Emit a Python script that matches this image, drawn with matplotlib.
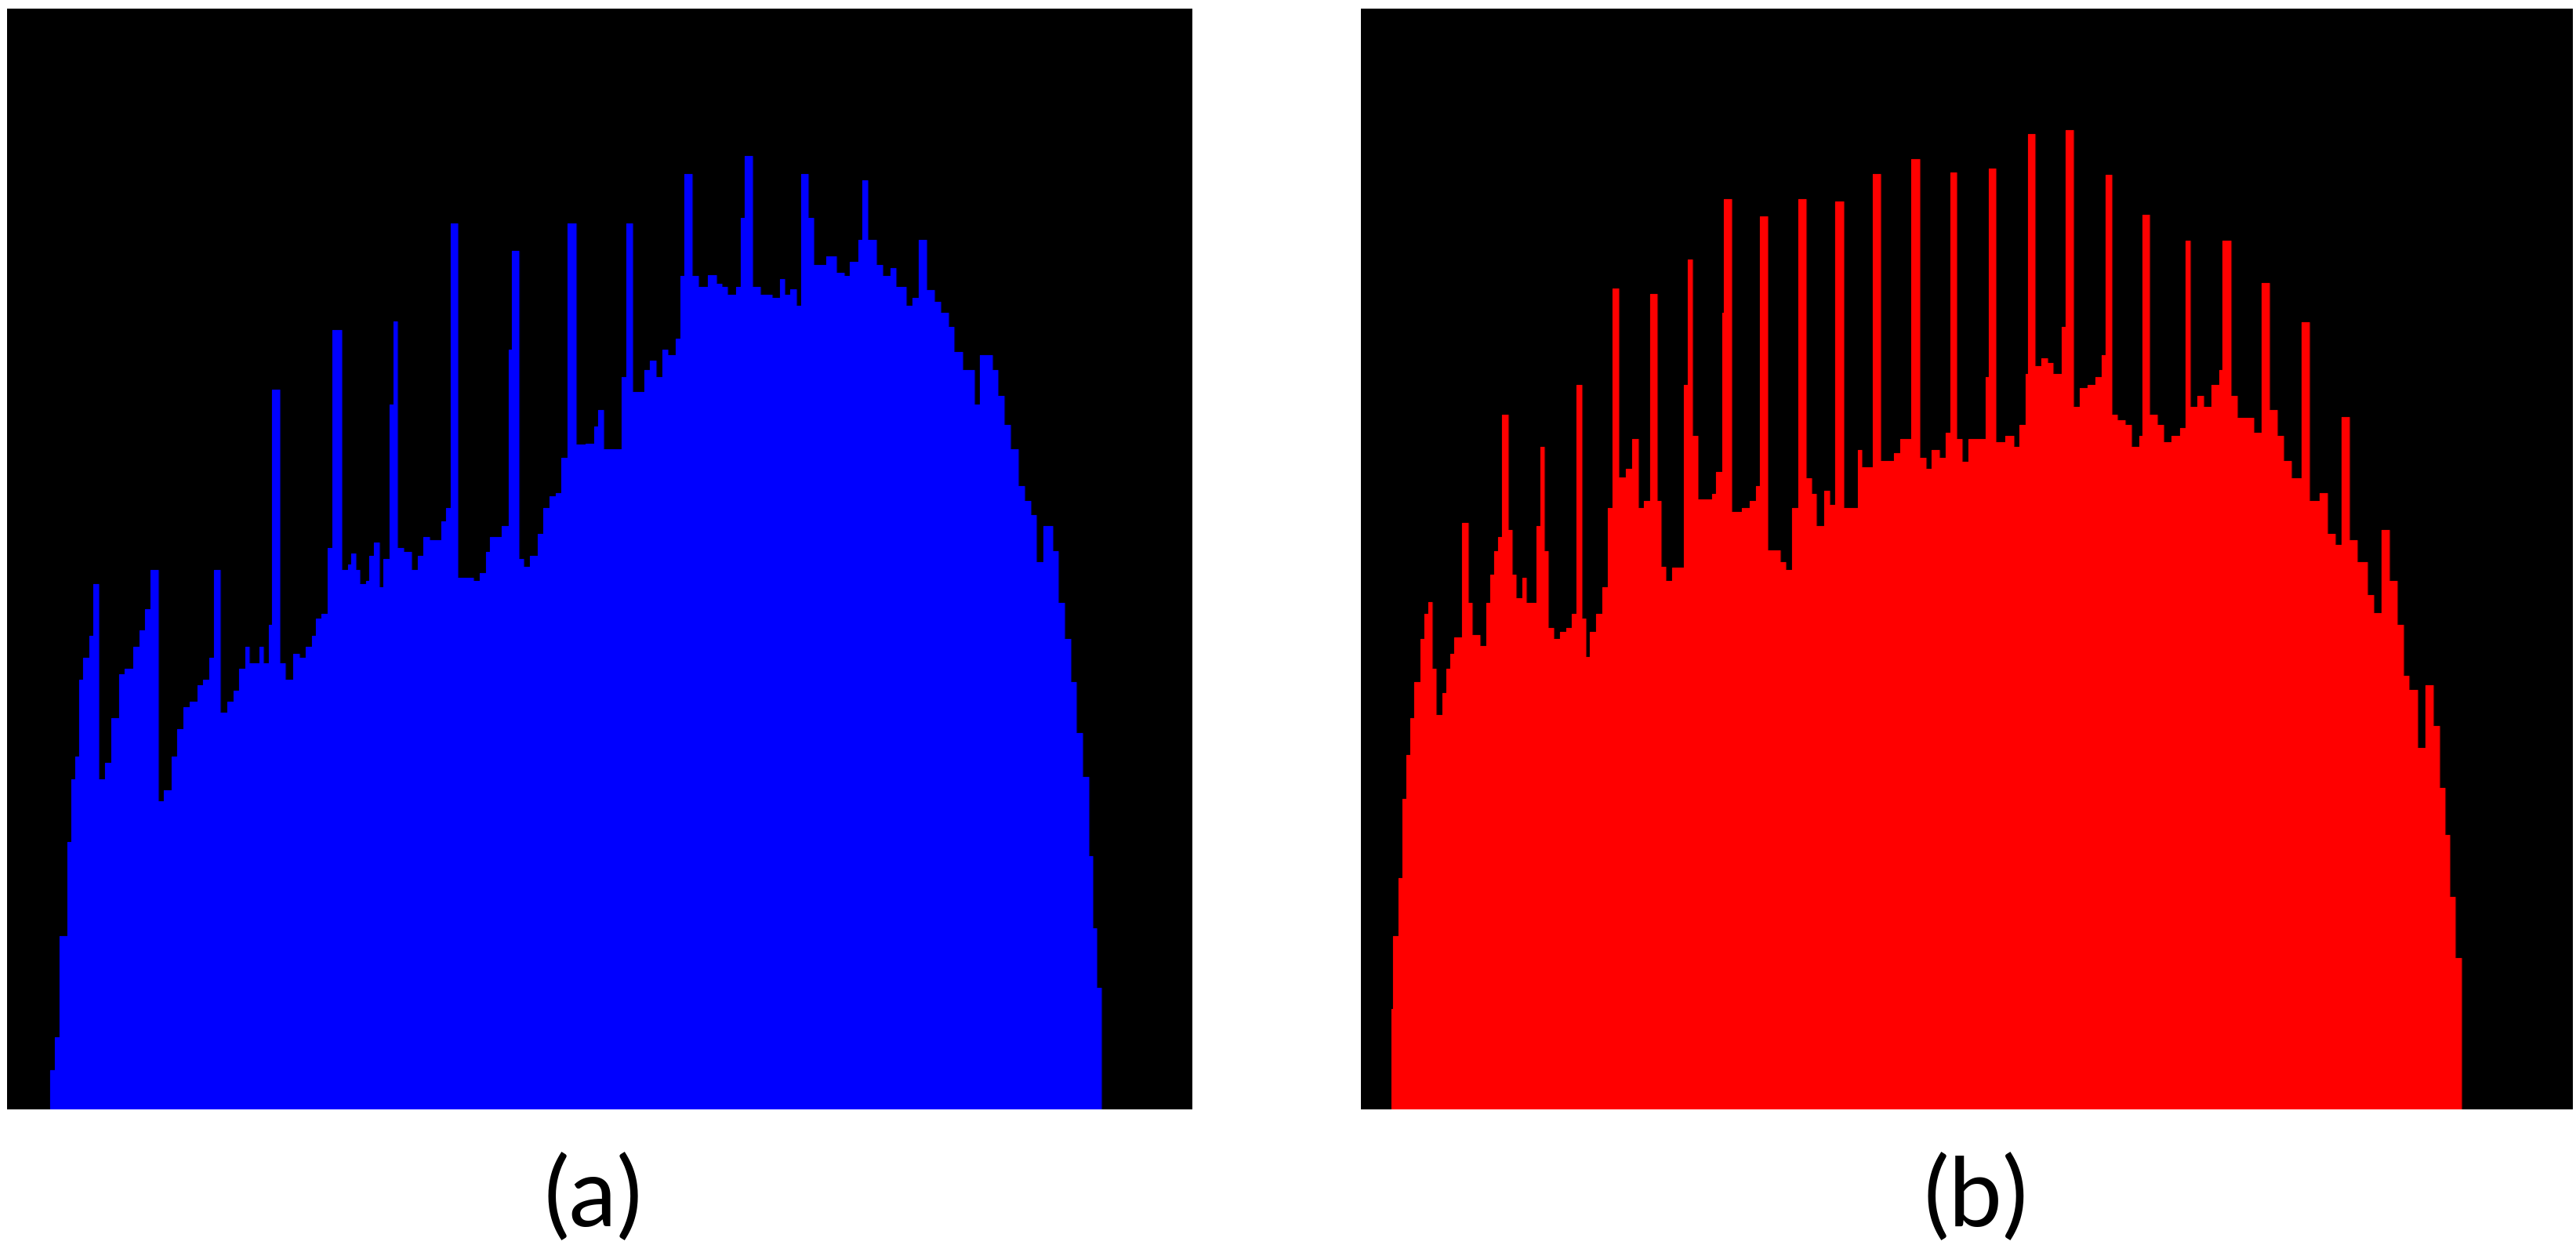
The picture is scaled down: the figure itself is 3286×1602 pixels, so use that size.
import numpy as np
from matplotlib import pyplot as plt

# intensity histograms, heights as fraction of the panel height
a_left = [9.4, 10.4, 11.3, 13.0, 13.9, 14.7, 15.6, 16.5, 17.8, 18.6,
          19.8, 21.2, 22.5, 24.2, 25.5, 27.3, 28.6, 29.9, 31.0, 32.7,
          33.8, 35.5, 36.8, 38.1, 39.4, 41.1, 42.4, 43.7, 44.8, 46.0,
          47.6, 48.9, 50.2, 51.5, 52.4, 54.5, 55.4, 56.5, 57.2, 59.0,
          60.2, 61.9, 63.2, 64.5, 65.8, 66.8, 67.9, 69.3, 70.3, 72.3,
          73.6, 74.3, 75.3, 76.2, 77.5, 78.3, 79.2, 80.5, 81.3, 82.7,
          83.5, 84.4, 85.7, 87.4, 88.7, 90.0, 91.3, 93.9, 94.8, 95.9,
          97.3, 100.8, 102.1, 103.4, 104.3, 106.9, 108.3, 109.0, 110.5, 111.6,
          112.9, 114.6, 115.9, 117.2, 118.5, 119.8, 121.0, 122.9, 125.0, 126.8,
          127.6, 128.9, 132.8, 133.8, 135.2, 137.6, 138.9, 140.2, 141.5, 142.8,
          144.5, 145.5, 146.3, 148.0, 149.3, 151.4, 153.2, 154.5, 155.7, 157.5,
          158.5, 159.3, 161.0, 162.7, 165.3, 167.0, 167.9, 169.2, 170.5, 171.5,
          173.0, 174.3, 176.9, 179.1, 180.8, 182.1, 183.9, 184.7, 186.0, 187.8,
          189.1, 190.8, 192.1, 194.2, 195.5, 197.0, 198.6, 200.3, 201.6, 203.3,
          204.6, 206.4, 209.0, 210.2, 212.8, 214.1, 215.4, 216.7, 218.5, 219.8,
          221.1, 222.4, 223.9, 225.8, 227.1, 228.4, 229.7, 231.0, 232.3, 233.6,
          234.5, 235.3]
a_end = 236.4
a_height = [0.035, 0.065, 0.157, 0.243, 0.30, 0.32, 0.39, 0.41, 0.43, 0.477,
            0.30, 0.315, 0.355, 0.395, 0.40, 0.42, 0.435, 0.454, 0.49, 0.28,
            0.29, 0.32, 0.345, 0.365, 0.37, 0.385, 0.39, 0.41, 0.49, 0.36,
            0.37, 0.38, 0.40, 0.42, 0.405, 0.42, 0.405, 0.44, 0.654, 0.405,
            0.39, 0.414, 0.41, 0.42, 0.43, 0.446, 0.45, 0.51, 0.708, 0.49,
            0.495, 0.505, 0.49, 0.477, 0.48, 0.503, 0.515, 0.474, 0.50, 0.64,
            0.716, 0.51, 0.506, 0.49, 0.503, 0.52, 0.517, 0.534, 0.546, 0.805,
            0.483, 0.48, 0.487, 0.506, 0.52, 0.53, 0.69, 0.78, 0.50, 0.493,
            0.503, 0.523, 0.546, 0.557, 0.56, 0.592, 0.805, 0.604, 0.605, 0.62,
            0.635, 0.60, 0.665, 0.805, 0.652, 0.672, 0.68, 0.665, 0.69, 0.685,
            0.70, 0.757, 0.85, 0.757, 0.747, 0.758, 0.75, 0.747, 0.74, 0.747,
            0.81, 0.866, 0.747, 0.74, 0.737, 0.754, 0.74, 0.745, 0.73, 0.85,
            0.81, 0.767, 0.775, 0.76, 0.757, 0.77, 0.79, 0.844, 0.79, 0.767,
            0.757, 0.764, 0.747, 0.73, 0.737, 0.79, 0.744, 0.734, 0.724, 0.711,
            0.688, 0.672, 0.64, 0.685, 0.672, 0.648, 0.622, 0.60, 0.566, 0.553,
            0.54, 0.497, 0.53, 0.507, 0.46, 0.427, 0.388, 0.342, 0.302, 0.23,
            0.164, 0.11]

b_left = [6.5, 6.8, 7.9, 8.75, 9.6, 10.4, 11.3, 12.55, 13.4, 14.25,
          15.1, 15.9, 17.2, 18.0, 18.9, 19.7, 21.4, 22.7, 23.5, 25.2,
          26.5, 27.3, 28.2, 29.0, 29.9, 31.1, 32.0, 32.8, 34.1, 34.9,
          37.05, 37.9, 38.7, 39.6, 40.8, 42.1, 43.4, 44.6, 45.5, 46.75,
          47.6, 48.45, 49.7, 51.0, 52.25, 53.1, 54.5, 56.05, 57.3, 58.6,
          59.85, 61.1, 62.55, 63.4, 64.5, 65.75, 68.3, 69.1, 70.15, 71.25,
          74.2, 75.05, 76.3, 76.7, 78.4, 80.5, 82.2, 83.5, 84.3, 86.0,
          88.6, 89.8, 91.1, 92.4, 94.05, 95.3, 96.2, 97.85, 99.1, 100.2,
          102.1, 105.0, 105.9, 108.2, 109.85, 112.6, 113.9, 116.3, 118.1, 119.4,
          120.65, 122.2, 123.6, 124.5, 125.9, 127.0, 128.3, 132.0, 132.6, 134.1,
          136.2, 137.9, 139.2, 140.4, 141.0, 142.5, 143.8, 145.1, 146.3, 148.0,
          148.9, 150.6, 151.8, 153.5, 155.2, 156.5, 157.3, 158.6, 159.9, 161.5,
          162.8, 164.5, 165.2, 166.6, 168.3, 169.6, 171.3, 173.0, 174.2, 175.3,
          176.8, 178.0, 179.7, 181.4, 182.1, 183.8, 185.2, 188.6, 190.3, 192.0,
          193.6, 194.9, 196.6, 198.7, 200.4, 202.5, 204.2, 205.9, 207.2, 208.8,
          210.5, 212.6, 213.9, 215.6, 217.3, 219.0, 220.3, 221.5, 223.2, 224.9,
          226.6, 227.9, 229.1, 230.0, 231.2]
b_end = 232.5
b_height = [0.091, 0.157, 0.21, 0.282, 0.322, 0.355, 0.388, 0.427, 0.45, 0.461,
            0.40, 0.358, 0.378, 0.40, 0.414, 0.429, 0.533, 0.46, 0.431, 0.421,
            0.46, 0.486, 0.507, 0.52, 0.631, 0.526, 0.486, 0.464, 0.483, 0.46,
            0.53, 0.602, 0.507, 0.437, 0.427, 0.434, 0.437, 0.45, 0.658, 0.446,
            0.411, 0.434, 0.45, 0.474, 0.546, 0.746, 0.574, 0.582, 0.609, 0.546,
            0.553, 0.741, 0.553, 0.493, 0.48, 0.492, 0.658, 0.772, 0.612, 0.554,
            0.559, 0.579, 0.724, 0.827, 0.543, 0.546, 0.553, 0.566, 0.811, 0.508,
            0.497, 0.49, 0.546, 0.827, 0.573, 0.559, 0.53, 0.562, 0.549, 0.825,
            0.546, 0.599, 0.583, 0.85, 0.589, 0.596, 0.609, 0.863, 0.592, 0.582,
            0.599, 0.592, 0.615, 0.851, 0.609, 0.588, 0.609, 0.665, 0.855, 0.606,
            0.612, 0.602, 0.622, 0.668, 0.886, 0.675, 0.682, 0.678, 0.668, 0.711,
            0.89, 0.638, 0.655, 0.658, 0.665, 0.685, 0.849, 0.631, 0.626, 0.622,
            0.602, 0.612, 0.813, 0.631, 0.622, 0.606, 0.612, 0.619, 0.789, 0.638,
            0.648, 0.638, 0.658, 0.672, 0.789, 0.648, 0.628, 0.615, 0.751, 0.635,
            0.612, 0.589, 0.573, 0.715, 0.553, 0.56, 0.523, 0.513, 0.629, 0.517,
            0.497, 0.467, 0.451, 0.526, 0.48, 0.44, 0.394, 0.381, 0.328, 0.385,
            0.348, 0.292, 0.249, 0.193, 0.137]

labels = ["(a)", "(b)"]
label_x = [0.2303, 0.7667]

fig = plt.figure(figsize=(32.87, 16.02), dpi=100)
fig.patch.set_facecolor("white")

panels = [
    ([0.0027, 0.1170, 0.4600, 0.8760], a_left, a_end, a_height, "#0000ff", "#00007a"),
    ([0.5281, 0.1170, 0.4703, 0.8760], b_left, b_end, b_height, "#ff0000", "#7a0000"),
]

for (rect, left, end, height, col, edge), lab, lx in zip(panels, labels, label_x):
    ax = fig.add_axes(rect)
    ax.set_facecolor("black")
    edges = np.array(left + [end])
    vals = np.array(height)
    ax.stairs(vals, edges, fill=False, color=edge, linewidth=1.0, baseline=0)
    ax.stairs(vals, edges, fill=True, color=col, baseline=0)
    ax.set_xlim(0, 256)
    ax.set_ylim(0, 1)
    ax.set_xticks([])
    ax.set_yticks([])
    for s in ax.spines.values():
        s.set_visible(False)
    fig.text(lx, 0.046, lab, ha="center", va="center", fontsize=88,
             family=["Lato", "DejaVu Sans"], color="black")

fig.savefig("out.png", dpi=100, facecolor="white")
